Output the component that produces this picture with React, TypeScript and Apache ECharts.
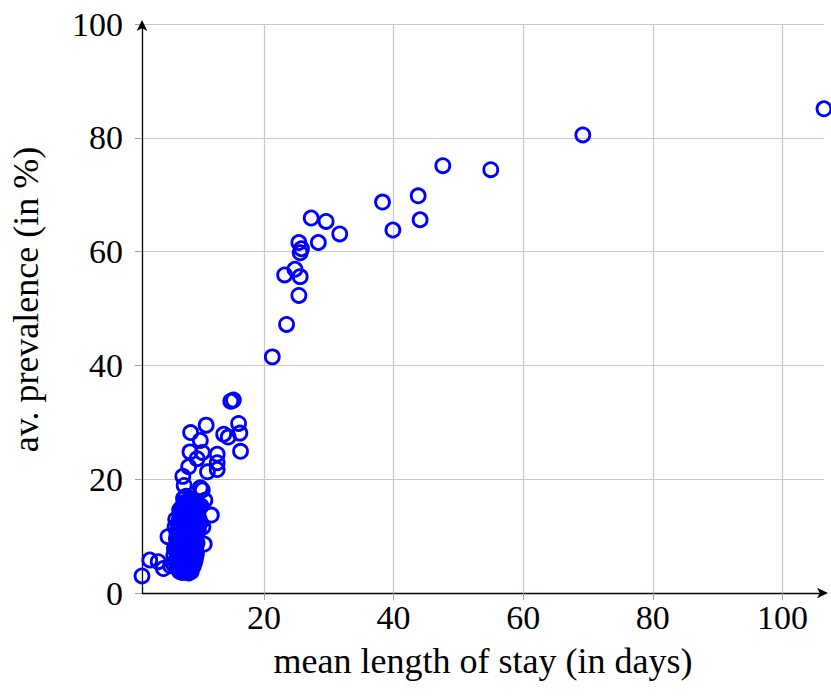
import React, { useEffect, useRef } from "react";
import * as echarts from "echarts";

// mean length of stay (days), av. prevalence (%)
const upperStay = [106.4, 69.2, 47.6, 55.0, 43.8, 38.3, 44.1, 39.9, 27.3, 29.6, 31.7, 28.4, 25.4, 25.8, 25.6, 23.2, 24.8, 25.6, 25.4, 23.5, 21.3];
const upperPrev = [85.1, 80.5, 75.1, 74.4, 69.8, 68.7, 65.6, 63.8, 65.9, 65.3, 63.1, 61.6, 61.6, 60.5, 59.8, 55.9, 56.9, 55.6, 52.3, 47.2, 41.5];

const midStay = [14.9, 15.3, 11.1, 8.7, 16.1, 13.8, 14.5, 16.3, 10.2, 16.4, 8.6, 10.5, 9.7, 12.8, 12.8, 12.8, 8.4, 11.3, 7.5, 7.7, 10.2, 10.5, 7.6, 10.9, 8.9, 11.9, 5.2, 10.8, 9.1, 2.4, 3.7, 4.5, 1.2];
const midPrev = [33.7, 33.9, 29.5, 28.2, 29.8, 27.9, 27.4, 28.1, 26.8, 24.9, 24.8, 24.7, 23.6, 24.4, 22.9, 21.7, 22.2, 21.3, 20.5, 18.9, 18.5, 18.1, 16.6, 16.3, 15.4, 13.7, 9.9, 8.6, 6.7, 5.8, 5.5, 4.3, 3.0];

const denseStay = [7.2, 7.8, 8.4, 7.0, 7.6, 8.2, 8.9, 6.8, 7.4, 8.0, 8.6, 7.1, 7.7, 8.3, 8.9, 9.4, 6.9, 7.5, 8.1, 8.7, 9.3, 7.2, 7.8, 8.4, 9.0, 9.6, 6.6, 7.3, 7.9, 8.5, 9.1, 9.8, 7.0, 7.6, 8.2, 8.8, 9.4, 10.0, 7.3, 7.9, 8.5, 9.1, 9.7, 8.2, 8.8, 9.5, 7.5, 10.3, 8.0, 7.4, 6.5, 6.2, 6.0, 9.8, 6.4, 7.0, 9.9, 10.2, 6.3, 8.6, 9.2, 6.7, 7.3, 9.6, 8.0, 6.1, 5.6, 9.4, 10.6, 8.4];
const densePrev = [4.0, 4.2, 4.5, 5.0, 5.3, 5.6, 5.2, 6.0, 6.4, 6.8, 6.2, 7.2, 7.6, 7.9, 7.4, 8.0, 8.4, 8.8, 9.1, 8.6, 9.3, 9.7, 10.1, 10.4, 10.0, 10.6, 10.8, 11.2, 11.5, 11.9, 11.3, 12.0, 12.4, 12.8, 13.1, 12.6, 13.3, 13.0, 13.8, 14.2, 14.5, 14.0, 14.8, 15.2, 15.9, 16.0, 15.0, 15.3, 3.8, 3.6, 9.5, 7.8, 5.2, 11.0, 12.9, 14.6, 15.6, 12.4, 11.6, 16.4, 9.0, 4.4, 3.9, 7.0, 17.0, 6.6, 4.8, 5.8, 11.6, 3.5];

const coreStay = [7.0, 7.6, 8.2, 8.8, 6.7, 7.3, 7.9, 8.5, 9.1, 6.9, 7.5, 8.1, 8.7, 9.3, 6.6, 7.2, 7.8, 8.4, 9.0, 9.5, 6.8, 7.4, 8.0, 8.6, 9.2, 6.5, 7.1, 7.7, 8.3, 8.9, 9.5, 6.7, 7.3, 7.9, 8.5, 9.1, 9.7, 6.9, 7.5, 8.1, 8.7, 9.3, 6.6, 7.2, 7.8, 8.4, 9.0, 9.6, 6.8, 7.4, 8.0, 8.6, 9.2, 9.9, 7.0, 7.6, 8.2, 8.8, 9.4, 6.9, 7.5, 8.1, 8.7, 9.3, 9.9, 7.1, 7.7, 8.3, 8.9, 9.5, 7.2, 7.8, 8.4, 9.0, 9.6, 7.4, 8.0, 8.6, 9.2, 9.8, 7.7, 8.3, 8.9, 9.5];
const corePrev = [3.8, 3.7, 3.9, 3.8, 4.6, 4.7, 4.5, 4.6, 4.7, 5.5, 5.4, 5.6, 5.5, 5.4, 6.3, 6.2, 6.4, 6.3, 6.2, 6.4, 7.1, 7.0, 7.2, 7.1, 7.0, 7.9, 8.0, 7.8, 7.9, 8.0, 7.9, 8.7, 8.6, 8.8, 8.7, 8.6, 8.8, 9.5, 9.4, 9.6, 9.5, 9.4, 10.3, 10.2, 10.4, 10.3, 10.2, 10.4, 11.1, 11.0, 11.2, 11.1, 11.0, 11.2, 11.9, 11.8, 12.0, 11.9, 11.8, 12.7, 12.6, 12.8, 12.7, 12.6, 12.8, 13.5, 13.4, 13.6, 13.5, 13.4, 14.3, 14.2, 14.4, 14.3, 14.2, 15.1, 15.0, 15.2, 15.1, 15.0, 15.9, 15.8, 16.0, 15.9];

const yTicks = [0, 20, 40, 60, 80, 100];
const xTicks = [20, 40, 60, 80, 100];

const xName = "mean length of stay (in days)";
const yName = "av. prevalence (in %)";

const FONT = "'Liberation Serif', 'Times New Roman', serif";

export default function App() {
  const ref = useRef<HTMLDivElement>(null);
  useEffect(() => {
    if (!ref.current) return;
    const chart = echarts.init(ref.current, undefined, { renderer: "svg" });
    const stay = [...upperStay, ...midStay, ...denseStay, ...coreStay];
    const prev = [...upperPrev, ...midPrev, ...densePrev, ...corePrev];
    const data = stay.map((s, i) => [s, prev[i]]);
    chart.setOption({
      animation: false,
      backgroundColor: "#ffffff",
      grid: { left: 142, right: 7, top: 24, bottom: 105, containLabel: false, outerBoundsMode: "none" },
      xAxis: {
        type: "value",
        min: Math.min(...stay),
        max: Math.max(...stay),
        name: xName,
        nameLocation: "middle",
        nameGap: 50,
        nameTextStyle: { fontFamily: FONT, fontSize: 36, color: "#000" },
        axisLine: { show: true, onZero: false, lineStyle: { color: "#000", width: 1.3 }, symbol: ["none", "arrow"], symbolSize: [8, 11], symbolOffset: [0, 4] },
        axisTick: { show: true, inside: false, length: 7, customValues: xTicks, lineStyle: { color: "#a0a0a0", width: 1 } },
        axisLabel: { customValues: xTicks, fontFamily: FONT, fontSize: 34, color: "#000", margin: 7 },
        splitLine: { show: true, showMinLine: true, showMaxLine: true, lineStyle: { color: "#c8c8c8", width: 1.2 } },
      },
      yAxis: {
        type: "value",
        min: 0,
        max: 100,
        interval: 20,
        name: yName,
        nameLocation: "middle",
        nameGap: 98,
        nameTextStyle: { fontFamily: FONT, fontSize: 36, color: "#000", padding: [0, 0, 0, 18] },
        axisLine: { show: true, onZero: false, lineStyle: { color: "#000", width: 1.3 }, symbol: ["none", "arrow"], symbolSize: [8, 11], symbolOffset: [0, 4] },
        axisTick: { show: true, inside: false, length: 7, lineStyle: { color: "#a0a0a0", width: 1 } },
        axisLabel: { fontFamily: FONT, fontSize: 34, color: "#000", margin: 19 },
        splitLine: { show: true, showMinLine: false, lineStyle: { color: "#c8c8c8", width: 1.2 } },
      },
      series: [
        {
          type: "scatter",
          data,
          symbol: "circle",
          symbolSize: 14,
          clip: false,
          itemStyle: { color: "rgba(255,255,255,0)", opacity: 1, borderColor: "#0000ff", borderWidth: 2.8 },
        },
      ],
    });
    return () => chart.dispose();
  }, []);
  return <div ref={ref} style={{ position: "absolute", left: 0, top: 0, width: 831, height: 698 }} />;
}
